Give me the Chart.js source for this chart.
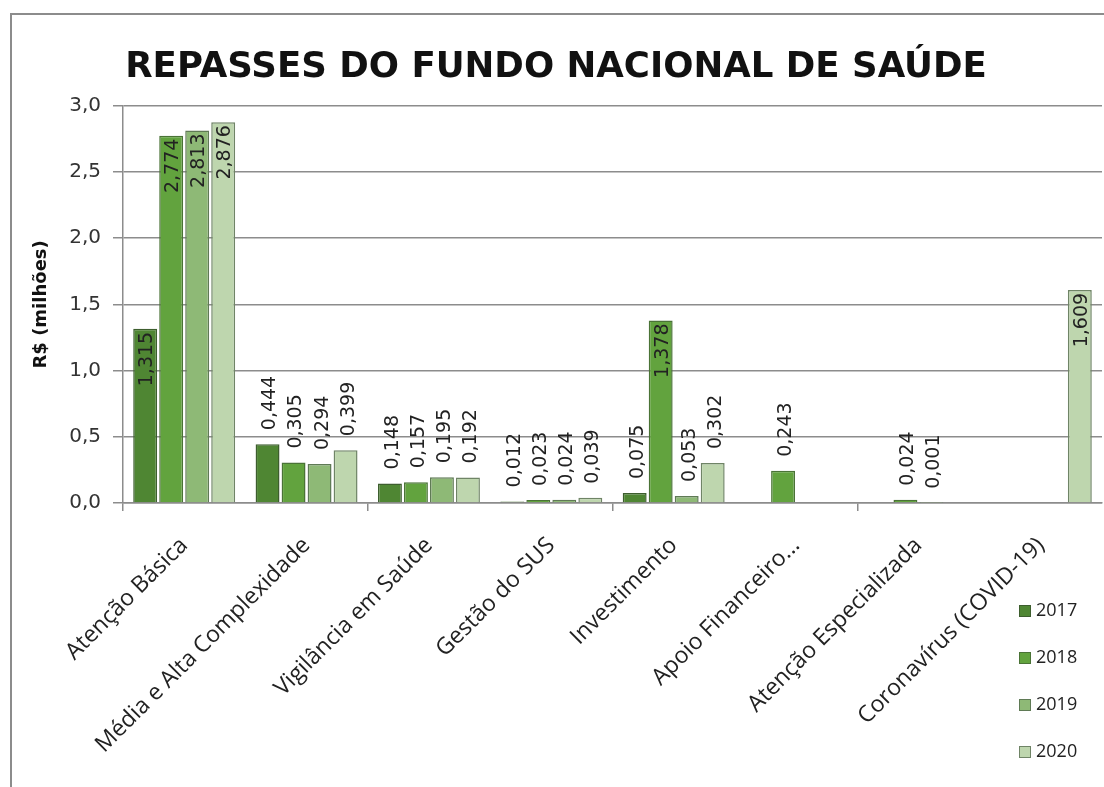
<!DOCTYPE html>
<html>
<head>
<meta charset="utf-8">
<title>Repasses do Fundo Nacional de Saúde</title>
<script src="https://cdn.jsdelivr.net/npm/chart.js@4"></script>
<style>
  html, body { margin: 0; padding: 0; background: #fff; }
  #frame { position: absolute; left: 10px; top: 13px; width: 1200px; height: 900px;
           border-left: 2px solid #8c8c8c; border-top: 2px solid #8c8c8c; }
  #wrap { position: absolute; left: 0; top: 0; width: 1104px; height: 787px; }
</style>
</head>
<body>
<div id="frame"></div>
<div id="wrap"><canvas id="myChart" width="1104" height="787"></canvas></div>
<script>
// data (R$ milhões)
const categories = ['Atenção Básica', 'Média e Alta Complexidade', 'Vigilância em Saúde', 'Gestão do SUS',
    'Investimento', 'Apoio Financeiro...', 'Atenção Especializada', 'Coronavírus (COVID-19)'];
const years = ['2017', '2018', '2019', '2020'];
const values2017 = [1.315, 0.444, 0.148, 0.012, 0.075, null, null, null];
const values2018 = [2.774, 0.305, 0.157, 0.023, 1.378, 0.243, 0.024, null];
const values2019 = [2.813, 0.294, 0.195, 0.024, 0.053, null, 0.001, null];
const values2020 = [2.876, 0.399, 0.192, 0.039, 0.302, null, null, 1.609];
const yTicks = [0, 0.5, 1.0, 1.5, 2.0, 2.5, 3.0];

const fills = ['#4f8633', '#62a33e', '#8eb976', '#bed6ae'];
const borders = ['#3d5e2e', '#4a7336', '#5f7a55', '#6f8466'];
const series = [values2017, values2018, values2019, values2020];

function comma(v, d){
    return v.toFixed(d).replace('.', ',');
}

// vertical value labels, inside the bar when it is tall enough
const valueLabels = {
    id: 'valueLabels',
    afterDatasetsDraw(chart){
        const c = chart.ctx;
        c.save();
        c.font = '19px "DejaVu Sans"';
        c.fillStyle = '#222';
        c.textBaseline = 'middle';
        chart.data.datasets.forEach(function(ds, i){
            const meta = chart.getDatasetMeta(i);
            meta.data.forEach(function(bar, j){
                const v = ds.data[j];
                if (v === null || v === undefined) return;
                const txt = comma(v, 3);
                const w = c.measureText(txt).width;
                const h = bar.base - bar.y;
                c.save();
                if (h > w + 16) {
                    c.translate(bar.x + 2, bar.y + 3);
                    c.rotate(-Math.PI / 2);
                    c.textAlign = 'right';
                } else {
                    c.translate(bar.x + 3, bar.y - 14);
                    c.rotate(-Math.PI / 2);
                    c.textAlign = 'left';
                }
                c.fillText(txt, 0, 0);
                c.restore();
            });
        });
        c.restore();
    }
};

// legend stacked in the lower right corner
const cornerLegend = {
    id: 'cornerLegend',
    afterDraw(chart){
        const c = chart.ctx;
        const x = chart.chartArea.right - 83;
        let y = chart.chartArea.bottom + 108;
        c.save();
        c.font = '18px "Open Sans"';
        c.textBaseline = 'middle';
        c.textAlign = 'left';
        chart.data.datasets.forEach(function(ds){
            c.fillStyle = ds.backgroundColor;
            c.fillRect(x, y - 6, 12, 12);
            c.strokeStyle = ds.borderColor;
            c.lineWidth = 1;
            c.strokeRect(x + 0.5, y - 5.5, 11, 11);
            c.fillStyle = '#222';
            c.fillText(ds.label, x + 17, y);
            y += 47;
        });
        c.restore();
    }
};

const ctx = document.getElementById('myChart').getContext('2d');

const chart = new Chart(ctx, {
    type: 'bar',
    data: {
        labels: categories,
        datasets: years.map(function(y, i){
            return {
                label: y,
                data: series[i],
                backgroundColor: fills[i],
                borderColor: borders[i],
                borderWidth: 1.5,
                categoryPercentage: 0.85,
                barPercentage: 0.92
            };
        })
    },
    plugins: [valueLabels, cornerLegend],
    options: {
        responsive: false,
        animation: false,
        layout: { padding: { left: 10, right: 2, top: 10, bottom: 0 } },
        plugins: {
            legend: { display: false },
            tooltip: { enabled: false },
            title: {
                display: true,
                text: 'REPASSES DO FUNDO NACIONAL DE SAÚDE',
                color: '#111',
                font: { family: '"DejaVu Sans"', size: 35.6, weight: 'bold' },
                padding: { top: 36, bottom: 17 }
            }
        },
        scales: {
            x: {
                grid: {
                    display: true,
                    drawOnChartArea: false,
                    color: function(c){ return c.index % 2 === 0 ? '#8c8c8c' : 'rgba(0,0,0,0)'; },
                    lineWidth: 1.5,
                    tickLength: 8
                },
                border: { color: '#8c8c8c', width: 1.5 },
                ticks: {
                    autoSkip: false,
                    minRotation: 45,
                    maxRotation: 45,
                    padding: 21,
                    color: '#222',
                    font: { family: '"Open Sans"', size: 23 }
                },
                afterFit: function(scale){ scale.height = 284; }
            },
            y: {
                min: 0,
                max: 3,
                grid: { color: '#8c8c8c', lineWidth: 1.5, tickLength: 10 },
                border: { color: '#8c8c8c', width: 1.5 },
                afterBuildTicks: function(scale){
                    scale.ticks = yTicks.map(function(v){ return { value: v }; });
                },
                ticks: {
                    padding: 12,
                    color: '#333',
                    font: { family: '"DejaVu Sans"', size: 20 },
                    callback: function(v){ return comma(v, 1); }
                },
                title: {
                    display: true,
                    text: 'R$ (milhões)',
                    color: '#111',
                    font: { family: '"DejaVu Sans"', size: 18, weight: 'bold' },
                    padding: { top: 21, bottom: 0 }
                },
                afterFit: function(scale){ scale.width = 113; }
            }
        }
    }
});
</script>
</body>
</html>
